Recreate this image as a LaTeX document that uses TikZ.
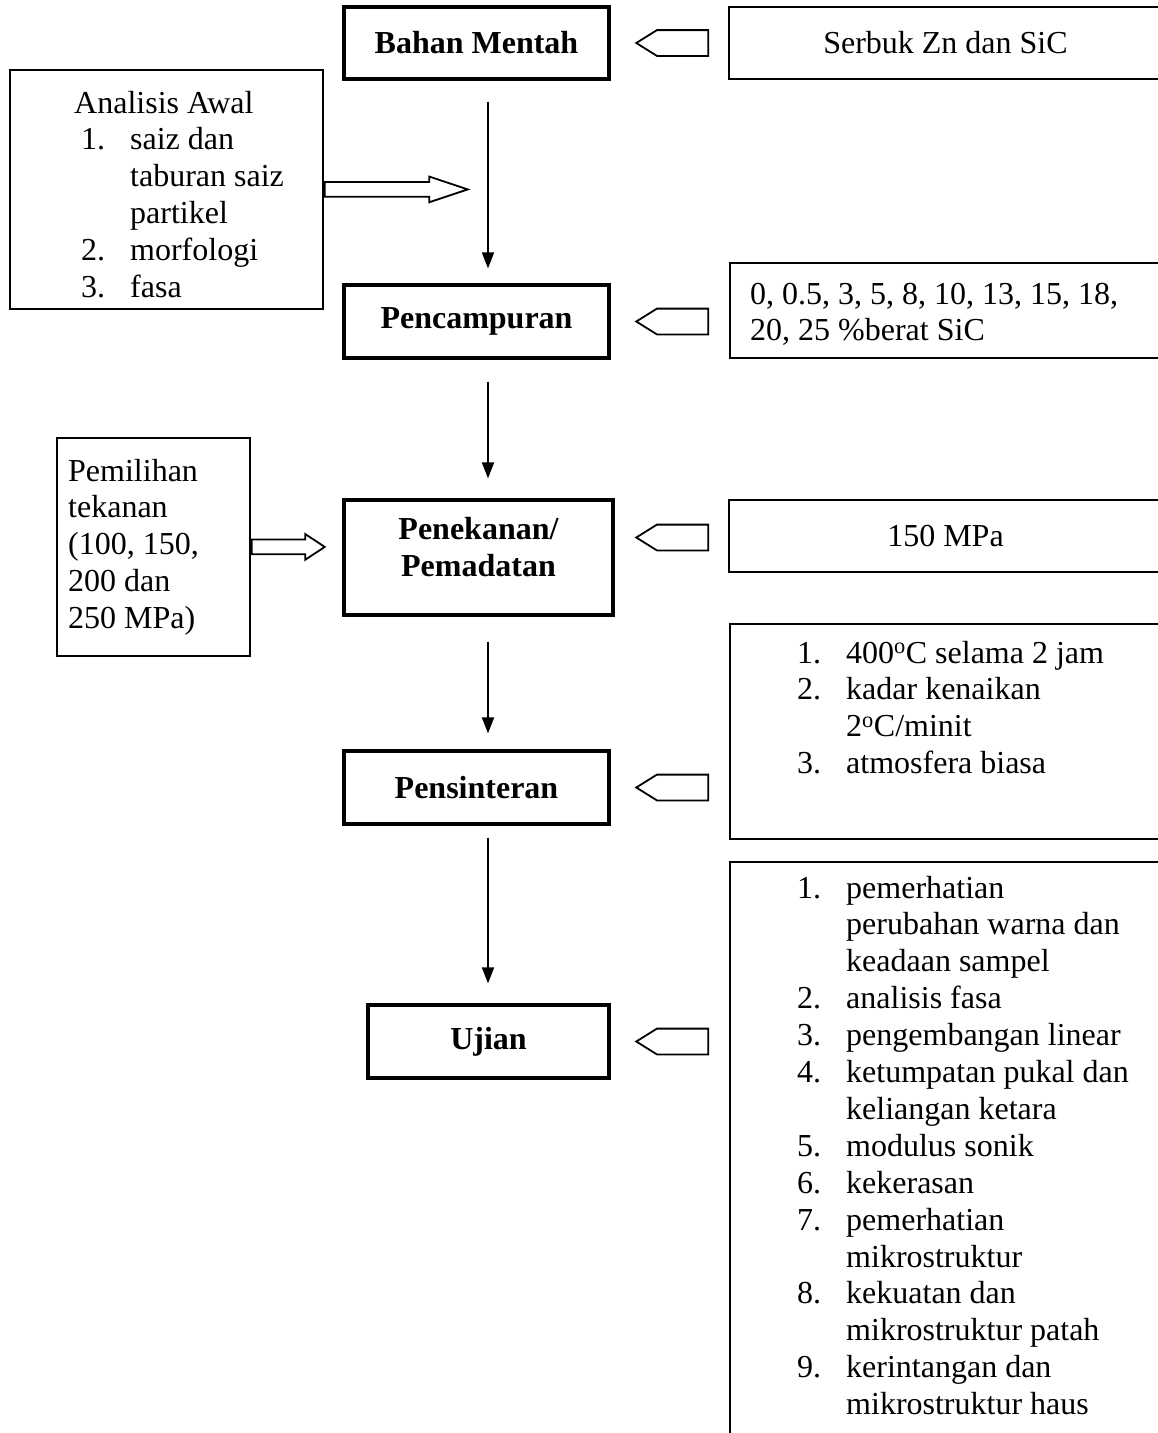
\documentclass[tikz,border=0pt]{standalone}
\usepackage{fontspec}
\setmainfont{Liberation Serif}
\usetikzlibrary{arrows.meta,shapes.arrows}

\newcommand{\itemno}[1]{\makebox[49pt][l]{#1}}

\begin{document}
\begin{tikzpicture}[x=1pt,y=-1pt,
    stage/.style={
% The shape:
rectangle,
% The border:
draw, line width=3.2pt,
% The text:
font=\fontsize{32}{36.9}\selectfont\bfseries, align=center, inner sep=0pt,
},
    source/.style={
% The shape:
rectangle,
% The border:
draw, line width=1.8pt,
% The text:
font=\fontsize{32}{36.9}\selectfont, inner sep=0pt,
},
    listtext/.style={
font=\fontsize{32}{36.9}\selectfont, inner sep=0pt, anchor=base west,
},
    feed/.style={
% The shape:
single arrow, shape border rotate=180, anchor=tip,
% The size:
minimum height=72pt, inner xsep=0pt, inner ysep=12pt,
single arrow head extend=0pt, single arrow tip angle=64,
% The border:
draw, line width=1.8pt,
},
    push/.style={
% The shape:
single arrow, anchor=tail,
% The size:
inner xsep=0pt, inner ysep=6.5pt,
single arrow head extend=5.5pt, single arrow tip angle=#1,
% The border:
draw, line width=1.8pt,
},
    flow/.style={-{Triangle[length=16pt,width=12pt]}, line width=1.8pt},
]
  \useasboundingbox (0,0) rectangle (1158,1433);
  \clip (0,0) rectangle (1158,1433);
  \coordinate (spine) at (488,0);

  % main stages
  \node[stage, minimum width=265pt, minimum height=72pt]  (bahan)  at (476.5,43)    {Bahan Mentah};
  \node[stage, minimum width=265pt, minimum height=73pt]  (campur) at (476.5,321.5) {Pencampuran};
  \node[stage, minimum width=269pt, minimum height=115pt, text depth=21pt] (tekan) at (478.5,557.5) {Penekanan/\\Pemadatan};
  \node[stage, minimum width=265pt, minimum height=73pt]  (sinter) at (476.5,787.5) {Pensinteran};
  \node[stage, minimum width=241pt, minimum height=73pt]  (ujian)  at (488.5,1041.5) {Ujian};

  % inputs on the right
  \node[source, minimum width=433pt, minimum height=72pt] (serbuk) at (945.5,43) {Serbuk Zn dan SiC};
  \node[source, minimum width=433pt, minimum height=95pt, anchor=north west] (kadar) at (729,262) {};
  \node[listtext] (kadarText) at (750,304)
    {\begin{tabular}[t]{@{}l@{}}0, 0.5, 3, 5, 8, 10, 13, 15, 18,\\20, 25 \%berat SiC\end{tabular}};
  \node[source, minimum width=433pt, minimum height=72pt] (tekanan) at (945.5,536) {150 MPa};
  \node[source, minimum width=433pt, minimum height=215pt, anchor=north west] (sinterBox) at (729,623) {};
  \node[listtext] (sinterText) at (797,663)
    {\begin{tabular}[t]{@{}l@{}}
      \itemno{1.}400\textsuperscript{o}C selama 2 jam\\
      \itemno{2.}kadar kenaikan\\
      \itemno{}2\textsuperscript{o}C/minit\\
      \itemno{3.}atmosfera biasa
    \end{tabular}};
  \node[source, minimum width=433pt, minimum height=620pt, anchor=north west] (ujianBox) at (729,861) {};
  \node[listtext] (ujianText) at (797,898)
    {\begin{tabular}[t]{@{}l@{}}
      \itemno{1.}pemerhatian\\
      \itemno{}perubahan warna dan\\
      \itemno{}keadaan sampel\\
      \itemno{2.}analisis fasa\\
      \itemno{3.}pengembangan linear\\
      \itemno{4.}ketumpatan pukal dan\\
      \itemno{}keliangan ketara\\
      \itemno{5.}modulus sonik\\
      \itemno{6.}kekerasan\\
      \itemno{7.}pemerhatian\\
      \itemno{}mikrostruktur\\
      \itemno{8.}kekuatan dan\\
      \itemno{}mikrostruktur patah\\
      \itemno{9.}kerintangan dan\\
      \itemno{}mikrostruktur haus
    \end{tabular}};

  % inputs on the left
  \node[source, minimum width=313pt, minimum height=239pt, anchor=north west] (awal) at (9,69) {};
  \node[listtext] (awalText) at (74,113)
    {\begin{tabular}[t]{@{}l@{}}
      Analisis Awal\\
      \hspace*{7pt}\itemno{1.}saiz dan\\
      \hspace*{7pt}\itemno{}taburan saiz\\
      \hspace*{7pt}\itemno{}partikel\\
      \hspace*{7pt}\itemno{2.}morfologi\\
      \hspace*{7pt}\itemno{3.}fasa
    \end{tabular}};
  \node[source, minimum width=193pt, minimum height=218pt, anchor=north west] (pilih) at (56,437) {};
  \node[listtext] (pilihText) at (68,481)
    {\begin{tabular}[t]{@{}l@{}}Pemilihan\\tekanan\\(100, 150,\\200 dan\\250 MPa)\end{tabular}};

  % arrows
  \node[push=37, minimum height=143pt] (awalPush)  at (awal.east)  {};
  \node[push=67, minimum height=73pt]  (pilihPush) at (pilih.east) {};

  \node[feed] (serbukFeed)  at ([xshift=24pt]bahan.east)  {};
  \node[feed] (kadarFeed)   at ([xshift=24pt]campur.east) {};
  \node[feed] (tekananFeed) at ([xshift=20pt,yshift=20pt]tekan.east) {};
  \node[feed] (sinterFeed)  at ([xshift=24pt]sinter.east) {};
  \node[feed] (ujianFeed)   at ([xshift=24pt]ujian.east)  {};

  \draw[flow, shorten <=21pt, shorten >=15pt] (bahan.south -| spine)  -- (campur.north -| spine);
  \draw[flow, shorten <=22pt, shorten >=20pt] (campur.south -| spine) -- (tekan.north -| spine);
  \draw[flow, shorten <=25pt, shorten >=16pt] (tekan.south -| spine)  -- (sinter.north -| spine);
  \draw[flow, shorten <=12pt, shorten >=20pt] (sinter.south -| spine) -- (ujian.north -| spine);

\end{tikzpicture}
\end{document}
